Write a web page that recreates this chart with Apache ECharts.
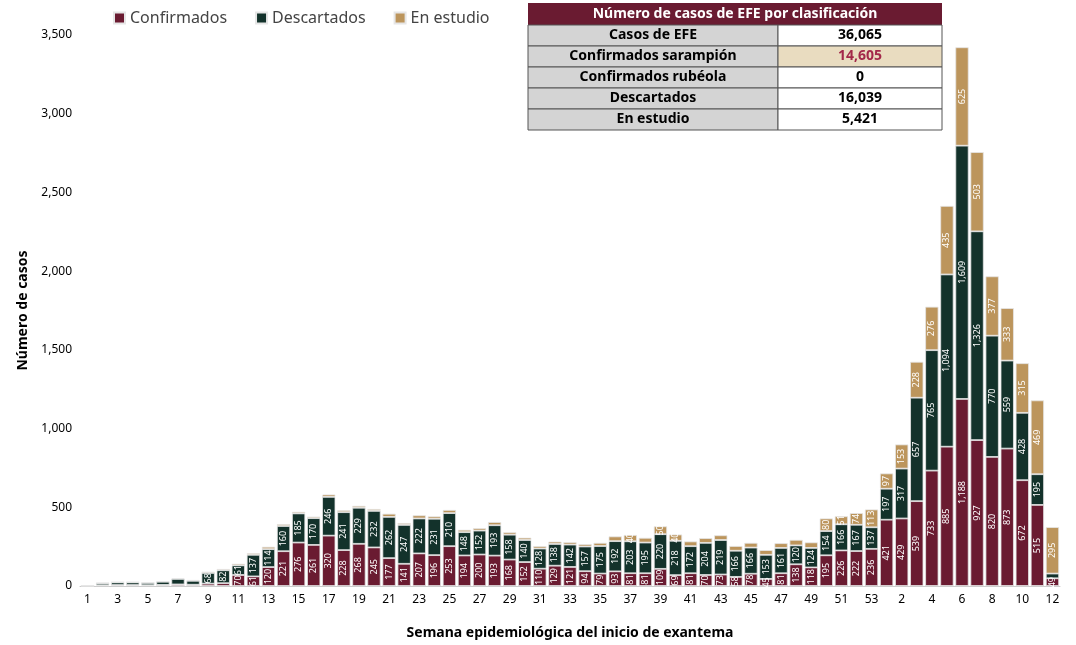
<!DOCTYPE html>
<html><head><meta charset="utf-8">
<script src="https://cdn.jsdelivr.net/npm/echarts@6/dist/echarts.min.js"></script>
<style>html,body{margin:0;padding:0;background:#fff}#c{width:1076px;height:645px}</style>
</head><body><div id="c"></div>
<script>
const weeks = [];
for (let i = 1; i <= 53; i++) weeks.push(String(i));
for (let i = 1; i <= 12; i++) weeks.push(String(i));
const confirmados = [1,5,6,6,5,7,10,8,15,18,70,61,120,221,276,261,320,228,268,245,177,141,207,196,253,194,200,193,168,152,110,129,121,94,79,93,81,81,109,69,81,70,73,58,78,45,81,138,118,195,226,222,236,
 421,429,539,733,885,1188,927,820,873,672,515,49];
const descartados = [2,13,17,17,15,20,35,25,68,82,61,137,114,160,185,170,246,241,229,232,262,247,222,231,210,148,152,193,158,140,128,138,142,157,175,192,203,195,220,218,172,204,219,166,166,153,161,120,124,154,166,167,137,
 197,317,657,765,1094,1609,1326,770,559,428,195,30];
const enEstudio = [0,2,2,2,2,3,5,4,8,8,10,10,15,12,10,10,15,12,12,12,20,12,20,15,20,15,15,20,15,15,15,15,15,15,20,30,40,30,50,40,30,30,30,30,30,30,30,35,35,80,51,74,113,
 97,153,228,276,435,625,503,377,333,315,469,295];
const tableRows = [["Casos de EFE","36,065"],["Confirmados sarampión","14,605"],["Confirmados rubéola","0"],["Descartados","16,039"],["En estudio","5,421"]];
const yTicks = [0,500,1000,1500,2000,2500,3000,3500];

const fmt = v => v.toLocaleString('en-US');
const colors = ['#6a1b31','#13322b','#bc955c'];
function mk(name, data, i){
  return {name, type:'bar', stack:'t', data, barCategoryGap:'12%',
    itemStyle:{color:colors[i], borderColor:'#e6e6e6', borderWidth:0.8},
    label:{show:true, position:'inside', rotate:90, color:'#fff', fontSize:9, fontFamily:'Noto Sans',
      formatter:p=> p.value>=40 ? fmt(p.value) : ''}};
}
const g = [];
const tx=528, ty=3, w1=250, w2=164, hh=22, rh=21;
g.push({type:'rect', shape:{x:tx,y:ty,width:w1+w2,height:hh}, style:{fill:'#6a1b31'}});
g.push({type:'text', x:tx+(w1+w2)/2, y:ty+hh/2, style:{text:'Número de casos de EFE por clasificación', fill:'#fff', font:'bold 14px "Noto Sans"', align:'center', verticalAlign:'middle'}});
tableRows.forEach((r,i)=>{
  const y = ty+hh+i*rh;
  g.push({type:'rect', shape:{x:tx,y,width:w1,height:rh}, style:{fill:'#d4d4d4', stroke:'#555', lineWidth:1}});
  g.push({type:'rect', shape:{x:tx+w1,y,width:w2,height:rh}, style:{fill:i===1?'#e9dcc0':'#fff', stroke:'#555', lineWidth:1}});
  g.push({type:'text', x:tx+w1/2, y:y+rh/2, style:{text:r[0], fill:'#000', font:'bold 14px "Noto Sans"', align:'center', verticalAlign:'middle'}});
  g.push({type:'text', x:tx+w1+w2/2, y:y+rh/2, style:{text:r[1], fill:i===1?'#a3284a':'#000', font:'bold 14px "Noto Sans"', align:'center', verticalAlign:'middle'}});
});
const chart = echarts.init(document.getElementById('c'));
chart.setOption({
  animation:false,
  textStyle:{fontFamily:'Noto Sans'},
  legend:{left:108, top:5, itemWidth:11, itemHeight:11, itemGap:28, icon:'rect', textStyle:{fontSize:16, color:'#444'}},
  grid:{left:80, right:16, top:35, bottom:58},
  xAxis:{type:'category', data:weeks, name:'Semana epidemiológica del inicio de exantema', nameLocation:'middle', nameGap:40,
    nameTextStyle:{fontWeight:'bold', fontSize:14, color:'#000'},
    axisTick:{show:false}, axisLine:{lineStyle:{color:'#ccc'}}, axisLabel:{interval:1, color:'#000', fontSize:12}},
  yAxis:{type:'value', min:0, max:3500, interval:500, name:'Número de casos', nameLocation:'middle', nameGap:46,
    nameTextStyle:{fontWeight:'bold', fontSize:14, color:'#000'},
    splitLine:{show:false}, axisLabel:{color:'#000', fontSize:12, formatter:v=>fmt(v)}},
  graphic:g,
  series:[mk('Confirmados',confirmados,0), mk('Descartados',descartados,1), mk('En estudio',enEstudio,2)]
});
</script></body></html>
